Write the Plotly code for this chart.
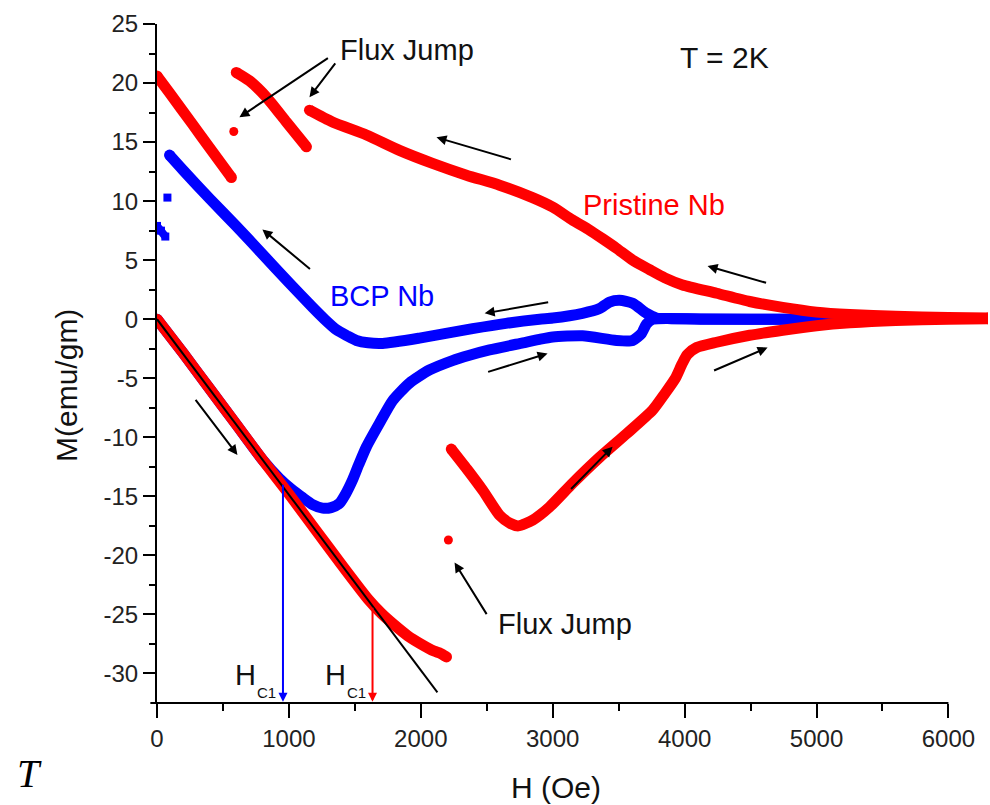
import plotly.graph_objects as go

# ---------------- data ----------------
# Pristine Nb: virgin (increasing field) curve
prist_virgin_H = [0, 200, 400, 600, 800, 1000, 1200, 1400, 1600, 1700, 1800, 1900, 2000, 2100, 2150, 2195]
prist_virgin_M = [0, -2.9, -5.9, -8.9, -11.9, -14.8, -17.8, -20.8, -23.7, -24.9, -25.9, -26.8, -27.5, -28.1, -28.3, -28.6]
# Pristine Nb: flux-jump points
prist_jump_H = [2209, 582]
prist_jump_M = [-18.7, 15.9]
# Pristine Nb: increasing field after the flux jump
prist_up_H = [2231, 2350, 2470, 2597, 2680, 2740, 2850, 2976, 3150, 3355, 3560, 3757, 3850, 3930, 3980,
              4020, 4091, 4243, 4493, 4744, 5000, 5253, 5600, 6000, 6300]
prist_up_M = [-11.0, -12.7, -14.5, -16.6, -17.3, -17.5, -17.0, -15.9, -13.9, -11.7, -9.7, -7.7, -6.3, -5.0, -3.8,
              -3.0, -2.4, -1.95, -1.36, -0.93, -0.55, -0.3, -0.1, 0.0, 0.05]
# Pristine Nb: decreasing field (three pieces separated by flux jumps)
prist_down1_H = [6300, 6000, 5600, 5253, 5000, 4744, 4493, 4243, 3984, 3850, 3734, 3606, 3484, 3380, 3279,
                 3150, 2999, 2847, 2597, 2346, 2089, 1838, 1588, 1330, 1156]
prist_down1_M = [0.1, 0.15, 0.25, 0.4, 0.6, 1.0, 1.5, 2.2, 2.9, 3.5, 4.2, 5.0, 6.0, 6.8, 7.55,
                 8.4, 9.5, 10.3, 11.35, 12.2, 13.2, 14.3, 15.6, 16.7, 17.7]
prist_down2_H = [1133, 981, 830, 700, 601]
prist_down2_M = [14.6, 16.7, 18.8, 20.2, 20.9]
prist_down3_H = [564, 400, 270, 100, 0]
prist_down3_M = [12.0, 14.5, 16.5, 19.1, 20.6]

# BCP Nb: increasing field (virgin + return)
bcp_up_H = [0, 200, 400, 600, 800, 929, 1020, 1103, 1180, 1255, 1320, 1383, 1430, 1483, 1530, 1588, 1687,
            1786, 1915, 2066, 2240, 2369, 2521, 2774, 2900, 3000, 3226, 3484, 3606, 3673, 3711, 3757,
            4200, 4800, 5250]
bcp_up_M = [0, -2.9, -5.9, -8.9, -11.9, -13.5, -14.4, -15.1, -15.7, -16.0, -15.95, -15.6, -14.8, -13.6, -12.3,
            -10.8, -8.8, -6.9, -5.4, -4.3, -3.5, -3.05, -2.6, -2.0, -1.7, -1.5, -1.4, -1.8, -1.8, -1.2,
            -0.4, 0.0, 0.0, 0.0, 0.0]
# BCP Nb: decreasing field
bcp_down_H = [5250, 4500, 3900, 3787, 3711, 3606, 3507, 3431, 3355, 3226, 3000, 2900, 2646, 2392, 1990,
              1711, 1600, 1512, 1440, 1361, 1270, 1180, 1005, 800, 600, 400, 200, 95]
bcp_down_M = [0.0, 0.0, 0.05, 0.1, 0.5, 1.35, 1.6, 1.45, 0.9, 0.5, 0.1, 0.0, -0.35, -0.8, -1.6,
              -2.05, -2.0, -1.8, -1.4, -0.9, 0.0, 1.0, 3.05, 5.5, 7.9, 10.2, 12.6, 13.9]
# BCP Nb: points after the low-field flux jump
bcp_jump_H = [79]
bcp_jump_M = [10.3]
bcp_low_H = [0, 30, 63]
bcp_low_M = [7.9, 7.5, 7.0]

# linear (Meissner) fit line
fit_H = [0, 2126]
fit_M = [0, -31.6]

# H_C1 markers
hc1_bcp_H, hc1_bcp_M = 955, -13.9
hc1_prist_H, hc1_prist_M = 1634, -24.3

x_ticks = [0, 1000, 2000, 3000, 4000, 5000, 6000]
x_ticktext = ["0", "1000", "2000", "3000", "4000", "5000", "6000"]
y_ticks = [-30, -25, -20, -15, -10, -5, 0, 5, 10, 15, 20, 25]
y_ticktext = ["-30", "-25", "-20", "-15", "-10", "-5", "0", "5", "10", "15", "20", "25"]

# ---------------- style ----------------
RED = "#ff0000"
BLUE = "#0000ff"
FONT = "Liberation Sans, Arial, sans-serif"
X_RANGE = [0, 6300]
Y_RANGE = [-32.5, 25]

fig = go.Figure()

def band(x, y, color, width=11):
    # thick smooth line plus round caps at both ends
    fig.add_trace(go.Scatter(x=x, y=y, mode="lines",
                             line=dict(color=color, width=width, shape="spline", smoothing=0.6),
                             hoverinfo="skip", showlegend=False))
    fig.add_trace(go.Scatter(x=[x[0], x[-1]], y=[y[0], y[-1]], mode="markers",
                             marker=dict(color=color, size=width, symbol="circle"),
                             hoverinfo="skip", showlegend=False))

def dots(x, y, color, symbol, size):
    fig.add_trace(go.Scatter(x=x, y=y, mode="markers",
                             marker=dict(color=color, size=size, symbol=symbol),
                             hoverinfo="skip", showlegend=False, cliponaxis=False))

# BCP (blue) underneath
band(bcp_up_H, bcp_up_M, BLUE)
band(bcp_down_H, bcp_down_M, BLUE)
dots(bcp_jump_H, bcp_jump_M, BLUE, "square", 8)
fig.add_trace(go.Scatter(x=bcp_low_H, y=bcp_low_M, mode="lines+markers",
                         line=dict(color=BLUE, width=8),
                         marker=dict(color=BLUE, size=8, symbol="square"),
                         hoverinfo="skip", showlegend=False))

# Pristine (red)
band(prist_virgin_H, prist_virgin_M, RED)
band(prist_up_H, prist_up_M, RED)
band(prist_down1_H, prist_down1_M, RED)
band(prist_down2_H, prist_down2_M, RED)
band(prist_down3_H, prist_down3_M, RED)
dots(prist_jump_H, prist_jump_M, RED, "circle", 9)

# linear fit
fig.add_trace(go.Scatter(x=fit_H, y=fit_M, mode="lines", line=dict(color="black", width=2),
                         hoverinfo="skip", showlegend=False))

ann = []

def arrow(x_tail, y_tail, x_head, y_head, color="black", width=2, size=1.0):
    ann.append(dict(x=x_head, y=y_head, ax=x_tail, ay=y_tail, xref="x", yref="y",
                    axref="x", ayref="y", text="", showarrow=True, arrowhead=2,
                    arrowsize=size, arrowwidth=width, arrowcolor=color, standoff=0, startstandoff=0))

def label(x, y, text, size=29, color="#111111", xref="x", yref="y", family=FONT, angle=0):
    ann.append(dict(x=x, y=y, xref=xref, yref=yref, text=text, showarrow=False,
                    xanchor="center", yanchor="middle", textangle=angle,
                    font=dict(size=size, color=color, family=family)))

# direction arrows
arrow(2695, 13.5, 2119, 15.4)
arrow(1171, 4.15, 799, 7.6)
arrow(4629, 3.05, 4174, 4.5)
arrow(4212, -4.4, 4629, -2.4)
arrow(2977, 1.45, 2484, 0.5)
arrow(2499, -4.5, 2961, -2.9)
arrow(284, -6.7, 610, -11.5)
arrow(3128, -14.5, 3454, -10.8)
# flux jump pointers
arrow(1307, 22.2, 625, 17.1)
arrow(1360, 21.8, 1156, 18.8)
arrow(2506, -25.1, 2256, -20.6)
# H_C1 drop lines
arrow(hc1_bcp_H, hc1_bcp_M, hc1_bcp_H, -32.4, color=BLUE, width=2, size=0.9)
arrow(hc1_prist_H, hc1_prist_M, hc1_prist_H, -32.4, color=RED, width=2, size=0.9)

label(1892, 22.8, "Flux Jump")
label(3090, -25.8, "Flux Jump")
label(4304, 22.2, "T = 2K", size=30)
label(3765, 9.66, "Pristine Nb", color=RED)
label(1709, 2.0, "BCP Nb", color=BLUE)
label(670, -30.1, "H", size=29)
label(830, -31.6, "C1", size=15)
label(1353, -30.1, "H", size=29)
label(1512, -31.6, "C1", size=15)

# axis titles and stray corner glyph
label(-0.1083, 0.4669, "M(emu/gm)", size=30, xref="paper", yref="paper", angle=-90)
label(0.480, -0.125, "H (Oe)", size=30, xref="paper", yref="paper")
label(-0.153, -0.104, "<i>T</i>", size=40, color="black", xref="paper", yref="paper",
      family="Liberation Serif, Times New Roman, serif")

fig.update_layout(
    width=990, height=805, autosize=False,
    margin=dict(l=157, r=2, t=24, b=102),
    paper_bgcolor="white", plot_bgcolor="white",
    showlegend=False,
    annotations=ann,
    shapes=[dict(type="line", xref="paper", yref="paper", x0=-0.008,
                 x1=x_ticks[-1] / X_RANGE[1], y0=0, y1=0,
                 line=dict(color="black", width=2))],
    xaxis=dict(range=X_RANGE, showline=False, zeroline=False, showgrid=False,
               tickmode="array", tickvals=x_ticks, ticktext=x_ticktext,
               ticks="outside", ticklen=14, tickwidth=2, tickcolor="black",
               tickfont=dict(size=24, color="#222222", family=FONT),
               minor=dict(tickmode="array", tickvals=[500, 1500, 2500, 3500, 4500, 5500],
                          ticks="outside", ticklen=7, tickwidth=2, tickcolor="black")),
    yaxis=dict(range=Y_RANGE, showline=True, linecolor="black", linewidth=2,
               zeroline=False, showgrid=False,
               tickmode="array", tickvals=y_ticks, ticktext=y_ticktext,
               ticks="outside", ticklen=12, tickwidth=2, tickcolor="black",
               tickfont=dict(size=24, color="#222222", family=FONT),
               minor=dict(tickmode="array",
                          tickvals=[-27.5, -22.5, -17.5, -12.5, -7.5, -2.5, 2.5, 7.5, 12.5, 17.5, 22.5],
                          ticks="outside", ticklen=6, tickwidth=2, tickcolor="black")),
)

fig.write_html("out.html")
